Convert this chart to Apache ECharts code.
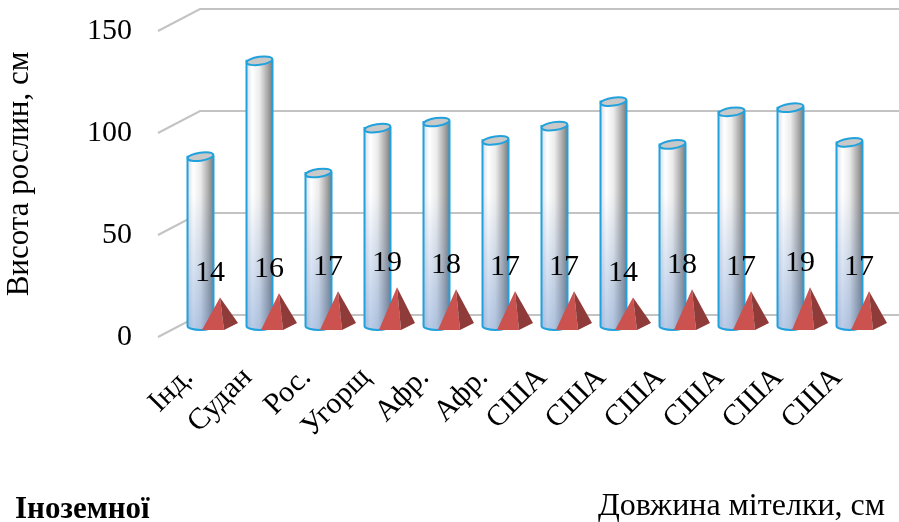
<!DOCTYPE html>
<html>
<head>
<meta charset="utf-8">
<script src="https://cdn.jsdelivr.net/npm/echarts@6/dist/echarts.min.js"></script>
<style>
  html, body { margin: 0; padding: 0; background: #ffffff; }
  #chart { width: 899px; height: 522px; }
</style>
</head>
<body>
<div id="chart"></div>
<script>
// Sorghum collection: plant height (cylinders) and panicle length (pyramids)
const categories = ['Інд.', 'Судан', 'Рос.', 'Угорщ', 'Афр.', 'Афр.', 'США', 'США', 'США', 'США', 'США', 'США'];
const plantHeight = [83, 130, 75, 97, 100, 91, 98, 110, 89, 105, 107, 90];
const panicleLength = [14, 16, 17, 19, 18, 17, 17, 14, 18, 17, 19, 17];
const yTicks = [0, 50, 100, 150];

const SERIF = '"Liberation Serif", "Times New Roman", serif';

// pseudo-3D depth of the floor: the back wall sits up and to the right
const DEPTH_X = 42;
const DEPTH_Y = -22;
const MID_Y = DEPTH_Y / 2;     // columns stand halfway into the floor
const WALL_START = -1;         // front-left corner relative to the grid edge
const COL_DX = 12;             // cylinder centre relative to its category tick

const BLUE_EDGE = '#21a2dc';

function renderGridLine(params, api) {
  const cs = params.coordSys;
  const p = api.coord([0, api.value(1)]);
  const x0 = cs.x + WALL_START;
  const y0 = p[1];
  const x1 = x0 + DEPTH_X;
  const y1 = y0 + DEPTH_Y;
  return {
    type: 'polyline',
    silent: true,
    shape: { points: [[x0, y0], [x1, y1], [api.getWidth(), y1]] },
    style: { stroke: '#c3c3c3', lineWidth: 2, fill: null }
  };
}

function renderCylinder(params, api) {
  const i = api.value(0);
  const v = api.value(1);
  const top = api.coord([i, v]);
  const base = api.coord([i, 0]);
  const tint = api.coord([i, 65]);
  const cx = top[0] + COL_DX;
  const yTop = top[1] + MID_Y;
  const yBot = base[1] + MID_Y;
  const r = 13, ry = 4;
  const body = 'M ' + (cx - r) + ' ' + yTop +
    ' L ' + (cx - r) + ' ' + yBot +
    ' A ' + r + ' ' + ry + ' 0 0 0 ' + (cx + r) + ' ' + yBot +
    ' L ' + (cx + r) + ' ' + yTop + ' Z';
  return {
    type: 'group',
    children: [
      {
        type: 'path',
        shape: { pathData: body },
        style: {
          fill: new echarts.graphic.LinearGradient(0, 0, 1, 0, [
            { offset: 0, color: '#d6deea' },
            { offset: 0.22, color: '#ffffff' },
            { offset: 0.5, color: '#ececec' },
            { offset: 0.8, color: '#ababab' },
            { offset: 1, color: '#7c7c7c' }
          ])
        }
      },
      {
        type: 'path',
        shape: { pathData: body },
        style: {
          fill: new echarts.graphic.LinearGradient(0, tint[1] + MID_Y, 0, yBot, [
            { offset: 0, color: 'rgba(90,135,200,0)' },
            { offset: 1, color: 'rgba(90,135,200,0.42)' }
          ], true)
        }
      },
      {
        type: 'path',
        shape: { pathData: body },
        style: { fill: null, stroke: BLUE_EDGE, lineWidth: 2 }
      },
      {
        type: 'ellipse',
        x: cx,
        y: yTop,
        rotation: 0.14,
        shape: { cx: 0, cy: 0, rx: r, ry: 4 },
        style: { fill: '#c9c9c9', stroke: BLUE_EDGE, lineWidth: 2 }
      }
    ]
  };
}

function renderPyramid(params, api) {
  const i = api.value(0);
  const v = api.value(1);
  const top = api.coord([i, v]);
  const base = api.coord([i, 0]);
  const ax = top[0] + COL_DX + 19.5;
  const ay = top[1] + MID_Y;
  const by = base[1] + MID_Y + 4;
  return {
    type: 'group',
    children: [
      {
        type: 'polygon',
        shape: { points: [[ax, ay], [ax - 18, by], [ax + 4, by]] },
        style: { fill: '#cb524e' }
      },
      {
        type: 'polygon',
        shape: { points: [[ax, ay], [ax + 4, by], [ax + 18, by - 7]] },
        style: { fill: '#8f3b39' }
      },
      {
        type: 'text',
        z2: 100,
        x: top[0] + COL_DX + 9.5,
        y: ay - 24,
        style: {
          text: String(v),
          font: '30px ' + SERIF,
          fill: '#000000',
          align: 'center',
          verticalAlign: 'middle'
        }
      }
    ]
  };
}

const chart = echarts.init(document.getElementById('chart'), null, { renderer: 'canvas' });

chart.setOption({
  backgroundColor: '#ffffff',
  animation: false,
  grid: {
    left: 159,
    right: 32,
    top: 31,
    bottom: 185,
    outerBoundsMode: 'none'
  },
  xAxis: {
    type: 'category',
    data: categories,
    axisLine: { show: false },
    axisTick: { show: false },
    axisLabel: {
      rotate: 45,
      margin: 36,
      interval: 0,
      color: '#000000',
      fontFamily: SERIF,
      fontSize: 30
    }
  },
  yAxis: {
    type: 'value',
    min: 0,
    max: 150,
    interval: 50,
    name: 'Висота рослин, см',
    nameLocation: 'middle',
    nameGap: 124,
    nameTextStyle: {
      color: '#000000',
      fontFamily: SERIF,
      fontSize: 31,
      padding: [0, 0, 0, 20]
    },
    axisLine: { show: false },
    axisTick: { show: false },
    splitLine: { show: false },
    axisLabel: {
      margin: 27,
      color: '#000000',
      fontFamily: SERIF,
      fontSize: 30,
      padding: [5, 0, 0, 0]
    }
  },
  series: [
    {
      type: 'custom',
      name: 'grid',
      silent: true,
      renderItem: renderGridLine,
      encode: { x: 0, y: 1 },
      data: yTicks.map(function (t) { return [0, t]; }),
      z: 1
    },
    {
      type: 'custom',
      name: 'Висота рослин, см',
      renderItem: renderCylinder,
      encode: { x: 0, y: 1 },
      data: plantHeight.map(function (h, i) { return [i, h]; }),
      z: 2
    },
    {
      type: 'custom',
      name: 'Довжина мітелки, см',
      renderItem: renderPyramid,
      encode: { x: 0, y: 1 },
      data: panicleLength.map(function (l, i) { return [i, l]; }),
      z: 3
    }
  ],
  graphic: [
    {
      type: 'text',
      x: 15,
      y: 510,
      style: {
        text: 'Іноземної',
        font: 'bold 31px ' + SERIF,
        fill: '#000000',
        verticalAlign: 'middle'
      }
    },
    {
      type: 'text',
      x: 598,
      y: 507,
      style: {
        text: 'Довжина мітелки, см',
        font: '32px ' + SERIF,
        fill: '#000000',
        verticalAlign: 'middle'
      }
    }
  ]
});
</script>
</body>
</html>
